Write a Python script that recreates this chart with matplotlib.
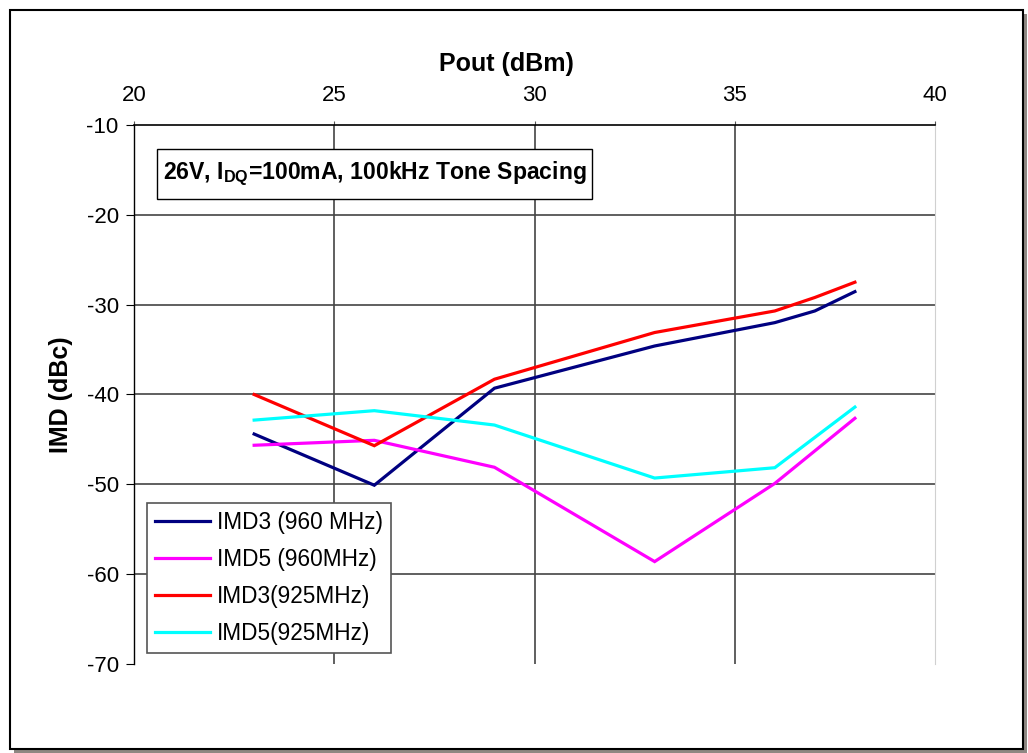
import matplotlib
matplotlib.use("Agg")
import matplotlib.pyplot as plt
from matplotlib.patches import Rectangle

plt.rcParams['font.family'] = ['Liberation Sans', 'DejaVu Sans']
plt.rcParams['mathtext.fontset'] = 'custom'
plt.rcParams['mathtext.rm'] = 'Liberation Sans'
plt.rcParams['mathtext.bf'] = 'Liberation Sans:bold'
plt.rcParams['axes.unicode_minus'] = False

# Data
pout_a = [23, 26, 29, 33, 36, 37, 38]
pout_b = [23, 26, 29, 33, 36, 38]
imd3_960 = [-44.4, -50.1, -39.3, -34.6, -32.0, -30.7, -28.55]
imd5_960 = [-45.65, -45.1, -48.1, -58.6, -49.9, -42.65]
imd3_925 = [-40.0, -45.7, -38.3, -33.1, -30.7, -29.2, -27.5]
imd5_925 = [-42.85, -41.8, -43.4, -49.3, -48.15, -41.4]
labels = ["IMD3 (960 MHz)", "IMD5 (960MHz)", "IMD3(925MHz)", "IMD5(925MHz)"]
colors = ["#000080", "#FF00FF", "#FF0000", "#00FFFF"]
xticks = [20, 25, 30, 35, 40]
yticks = [-10, -20, -30, -40, -50, -60, -70]

W, H = 1028, 753
fig = plt.figure(figsize=(W / 100, H / 100), dpi=100)

# outer frame with shadow
fig.patches.append(Rectangle((14 / W, 1 - 753 / H), 1013 / W, 739 / H,
                             transform=fig.transFigure, facecolor="#8e8782",
                             edgecolor="none", zorder=0))
fig.patches.append(Rectangle((10 / W, 1 - 749 / H), 1013 / W, 739 / H,
                             transform=fig.transFigure, facecolor="white",
                             edgecolor="black", linewidth=1.5, zorder=1))

ax = fig.add_axes([134 / W, 1 - 664 / H, (935 - 134) / W, (664 - 125) / H])
ax.set_facecolor("none")
ax.set_zorder(2)

series = [(pout_a, imd3_960), (pout_b, imd5_960), (pout_a, imd3_925), (pout_b, imd5_925)]
for (xs, ys), lab, c in zip(series, labels, colors):
    ax.plot(xs, ys, color=c, linewidth=2.3, label=lab, solid_joinstyle='miter')

ax.set_xlim(20, 40)
ax.set_ylim(-70, -10)
ax.set_xticks(xticks)
ax.set_yticks(yticks)
ax.xaxis.tick_top()
ax.xaxis.set_label_position('top')
ax.tick_params(axis='x', direction='out', length=3, labelsize=16, pad=11, color='#555555')
ax.tick_params(axis='y', direction='out', length=6, labelsize=16, pad=5)
ax.set_xlabel("Pout (dBm)", fontsize=18, fontweight='bold', labelpad=9.5)
ax.xaxis.label.set_x((506 - 134) / 801)
ax.set_ylabel("IMD (dBc)", fontsize=18, fontweight='bold', labelpad=10)

for y in yticks[1:-1]:
    ax.axhline(y, color="#444444", linewidth=1.2, zorder=0.5)
for x in xticks[1:-1]:
    ax.axvline(x, color="#444444", linewidth=1.2, zorder=0.5)

ax.spines['bottom'].set_visible(False)
ax.spines['right'].set_color('#d0d0d0')
ax.spines['left'].set_color('black')
ax.spines['top'].set_color('black')
ax.spines['left'].set_linewidth(1.0)
ax.spines['top'].set_linewidth(1.2)

# annotation box
fig.patches.append(Rectangle((157 / W, 1 - 199 / H), (592 - 157) / W, 50 / H,
                             transform=fig.transFigure, facecolor="white",
                             edgecolor="black", linewidth=1.0, zorder=5))
fig.text(163 / W, 1 - 174 / H, r"26V, I$_\mathbf{DQ}$=100mA, 100kHz Tone Spacing",
         fontsize=16.6, fontweight='bold', va='center', ha='left', zorder=6)

leg = ax.legend(loc='upper left', bbox_to_anchor=(147 / W, 1 - 503 / H),
                bbox_transform=fig.transFigure, fontsize=16.3, frameon=True, fancybox=False,
                edgecolor='#555555', framealpha=1, handlelength=2.45, handletextpad=0.3,
                labelspacing=0.62, borderpad=0.35, borderaxespad=0)
leg.get_frame().set_linewidth(1.2)

fig.savefig("out.png", dpi=100)
